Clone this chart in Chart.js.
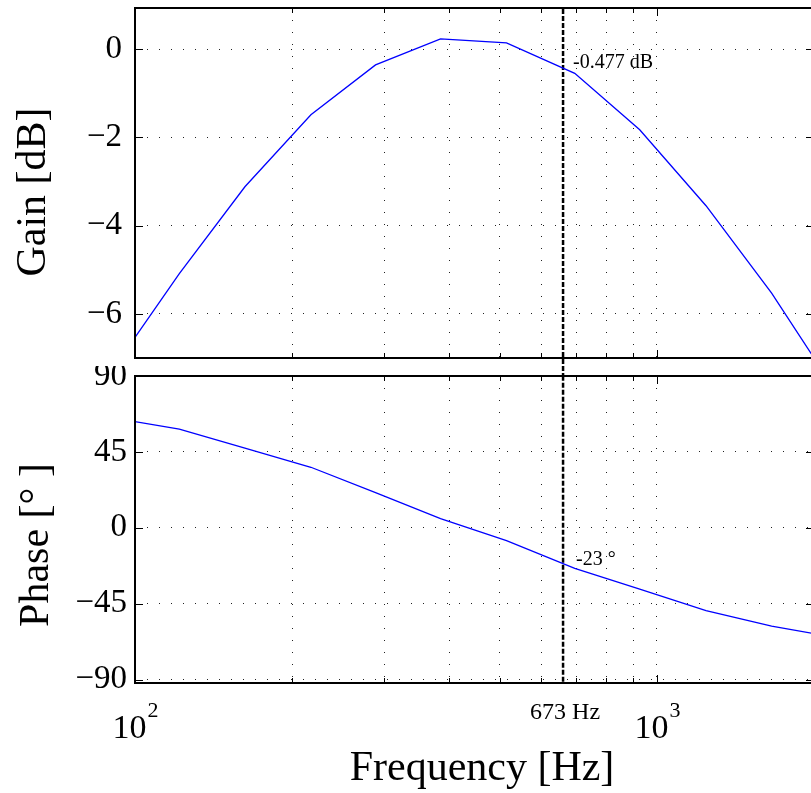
<!DOCTYPE html>
<html><head><meta charset="utf-8">
<script src="https://cdn.jsdelivr.net/npm/chart.js@4.4.1/dist/chart.umd.min.js"></script>
<style>
html,body{margin:0;padding:0;background:#fff;overflow:hidden;width:811px;height:793px;position:relative}
#wrapA{position:absolute;left:0;top:0;width:830px;height:376px}
#wrapB{position:absolute;left:0;top:366px;width:830px;height:427px}
canvas{display:block}
</style></head><body>
<div id="wrapA"><canvas id="gain" width="830" height="376"></canvas></div>
<div id="wrapB"><canvas id="phase" width="830" height="427"></canvas></div>
<script>
// ---- data ----
const frequencies = [91.1, 121.6, 162.4, 217.3, 289, 385, 515, 696, 927, 1242, 1659, 2215];
const gainDb      = [-7.22, -5.09, -3.12, -1.49, -0.36, 0.23, 0.14, -0.55, -1.83, -3.55, -5.53, -7.80];
const phaseDeg    = [65.1, 58.5, 47.3, 35.9, 20.8, 5.4, -7.6, -24.1, -36.3, -49.1, -58.3, -65.2];
const freqGridTicks = [100, 200, 300, 400, 500, 600, 700, 800, 900, 1000, 2000];
const gainTicks  = [-6, -4, -2, 0];
const phaseTicks = [-90, -45, 0, 45, 90];
const decadeLabels = [[100, '10', '2'], [1000, '10', '3']];
const markerFreq  = 661;
const markerLabel = '673 Hz';
const markerGain  = -0.477;
const markerPhase = -23;
const gainAnnotation  = '-0.477 dB';
const phaseAnnotation = '-23 °';

const FONT = '"Liberation Serif", "Times New Roman", serif';
const fmt = v => (v < 0 ? '\u2212' + Math.abs(v) : String(v));
const isDecade = v => Math.abs(Math.log10(v) - Math.round(Math.log10(v))) < 1e-9;

const bodePlugin = {
  id: 'bode',
  afterDraw(chart, args, o) {
    const {ctx, chartArea: a, scales: {x, y}} = chart;
    ctx.save();
    ctx.strokeStyle = '#000'; ctx.lineWidth = 1; ctx.setLineDash([]);
    ctx.beginPath();
    x.ticks.forEach(t => {
      const px = Math.round(x.getPixelForValue(t.value)) + 0.5;
      const len = isDecade(t.value) ? 8 : 5;
      ctx.moveTo(px, a.top); ctx.lineTo(px, a.top + len);
      ctx.moveTo(px, a.bottom); ctx.lineTo(px, a.bottom - len);
    });
    y.ticks.forEach(t => {
      const py = Math.round(y.getPixelForValue(t.value)) + 0.5;
      ctx.moveTo(a.left, py); ctx.lineTo(a.left + 8, py);
      ctx.moveTo(a.right, py); ctx.lineTo(a.right - 8, py);
    });
    ctx.stroke();
    ctx.lineWidth = 2;
    ctx.strokeRect(Math.round(a.left), Math.round(a.top),
                   Math.round(a.right - a.left), Math.round(a.bottom - a.top));
    ctx.fillStyle = '#000';
    // axis title
    ctx.save();
    ctx.font = '42px ' + FONT;
    ctx.translate(o.titleX, o.titleY);
    ctx.rotate(-Math.PI / 2);
    ctx.textAlign = 'center'; ctx.textBaseline = 'middle';
    ctx.fillText(o.title, 0, 0);
    ctx.restore();
    // annotation at the marker
    const mx = x.getPixelForValue(markerFreq);
    ctx.font = '20px ' + FONT;
    ctx.textAlign = 'left'; ctx.textBaseline = 'alphabetic';
    ctx.fillText(o.annText, mx + o.annDx, y.getPixelForValue(o.annValue) - 2);
    // x labels (bottom plot only)
    if (o.xLabels) {
      decadeLabels.forEach(([v, base, exp]) => {
        const px = x.getPixelForValue(v);
        ctx.font = '34px ' + FONT;
        const w1 = ctx.measureText(base).width;
        ctx.font = '22px ' + FONT;
        const w2 = ctx.measureText(exp).width;
        const x0 = px - (w1 + w2) / 2;
        ctx.font = '34px ' + FONT;
        ctx.fillText(base, x0, a.bottom + 55);
        ctx.font = '22px ' + FONT;
        ctx.fillText(exp, x0 + w1 + 1, a.bottom + 34);
      });
      ctx.font = '24px ' + FONT;
      ctx.textAlign = 'center';
      ctx.fillText(markerLabel, mx + 2, a.bottom + 36);
      ctx.font = '42px ' + FONT;
      ctx.fillText('Frequency [Hz]', 482, a.bottom + 97);
    }
    ctx.restore();
  }
};

function makeChart(id, values, yMin, yMax, yTicks, tickPad, padTop, xHeight, pluginOpts) {
  const gridOpts = {color: '#222', lineWidth: 1, drawTicks: false};
  const borderOpts = {display: false, dash: [1, 11]};
  return new Chart(document.getElementById(id), {
    type: 'scatter',
    data: {
      datasets: [
        {
          data: frequencies.map((f, i) => ({x: f, y: values[i]})),
          showLine: true, borderColor: '#0000ff', borderWidth: 1.3,
          pointRadius: 0, fill: false, tension: 0
        },
        {
          data: [{x: markerFreq, y: -1000}, {x: markerFreq, y: 1000}],
          showLine: true, borderColor: '#000', borderWidth: 2.5, borderDash: [5, 2],
          pointRadius: 0, fill: false,
          clip: {left: 0, top: 0, right: 0, bottom: pluginOpts.markerOverflow}
        }
      ]
    },
    options: {
      responsive: false, animation: false, devicePixelRatio: 1,
      layout: {padding: {top: padTop, right: 16, bottom: 0, left: 0}},
      plugins: {legend: {display: false}, tooltip: {enabled: false}, bode: pluginOpts},
      scales: {
        x: {
          type: 'logarithmic', min: 100, max: 2000,
          afterBuildTicks: s => { s.ticks = freqGridTicks.map(v => ({value: v})); },
          afterFit: s => { s.height = xHeight; s.paddingLeft = 0; s.paddingRight = 0; },
          ticks: {display: false, autoSkip: false},
          grid: gridOpts, border: borderOpts
        },
        y: {
          type: 'linear', min: yMin, max: yMax,
          afterBuildTicks: s => { s.ticks = yTicks.map(v => ({value: v})); },
          afterFit: s => { s.width = 135; s.paddingTop = 0; s.paddingBottom = 0; },
          ticks: {font: {family: FONT, size: 33}, color: '#000', padding: tickPad,
                  autoSkip: false, callback: v => fmt(v)},
          grid: gridOpts, border: borderOpts
        }
      }
    },
    plugins: [bodePlugin]
  });
}

makeChart('gain', gainDb, -7, 0.93, gainTicks, 13, 8, 18, {
  title: 'Gain [dB]', titleX: 34, titleY: 192,
  annText: gainAnnotation, annValue: markerGain, annDx: 10,
  xLabels: false, markerOverflow: 18
});
makeChart('phase', phaseDeg, -92, 90, phaseTicks, 8, 10, 110, {
  title: 'Phase [° ]', titleX: 37, titleY: 179,
  annText: phaseAnnotation, annValue: markerPhase, annDx: 13,
  xLabels: true, markerOverflow: 0
});
</script>
</body></html>
